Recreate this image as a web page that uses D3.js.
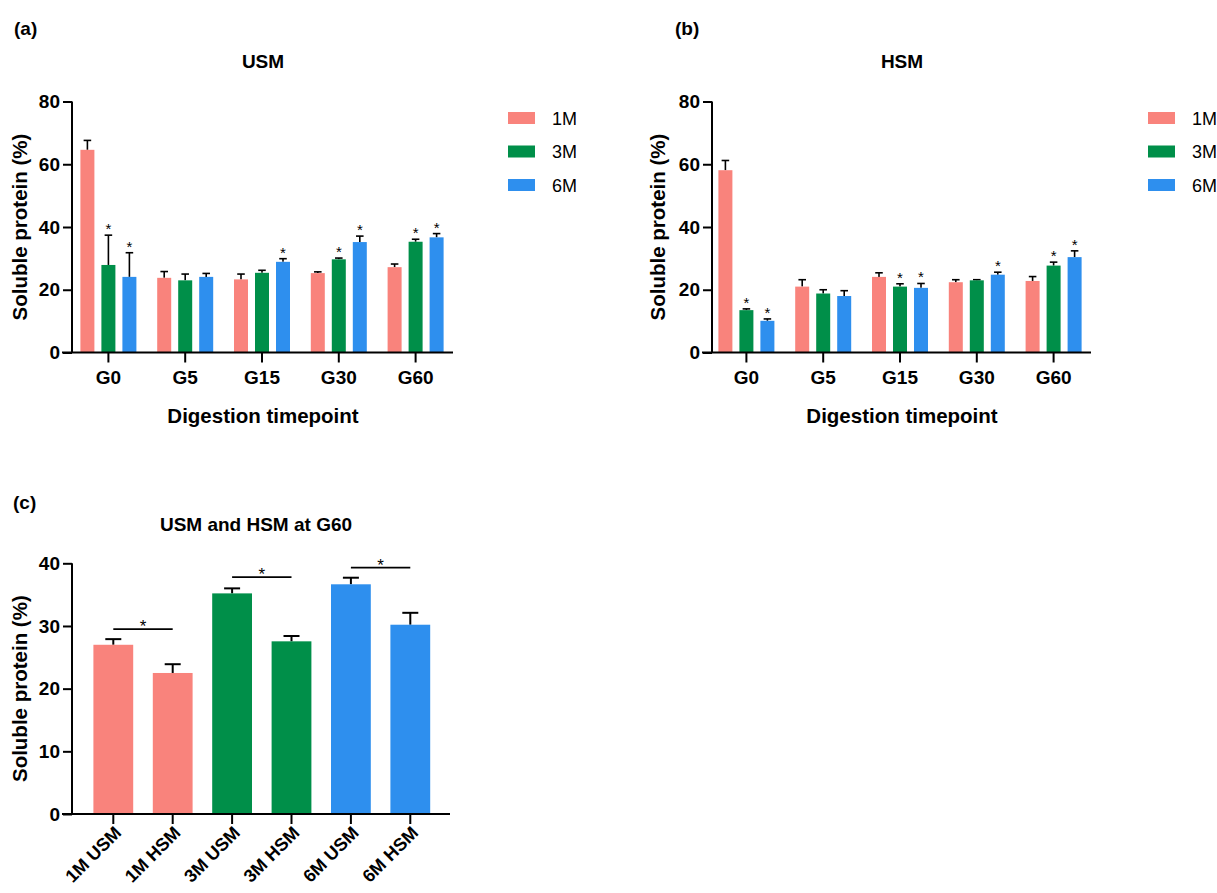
<!DOCTYPE html>
<html>
<head>
<meta charset="utf-8">
<script src="https://cdn.jsdelivr.net/npm/d3@7"></script>
<style>
  html, body { margin: 0; padding: 0; background: #ffffff; }
  svg { display: block; }
  text { font-family: "Liberation Sans", Arial, Helvetica, sans-serif; }
</style>
</head>
<body>
<svg id="chart" width="1217" height="893"></svg>
<script>
// ---------------- DATA ----------------
const categories = ["G0", "G5", "G15", "G30", "G60"];
const seriesNames = ["1M", "3M", "6M"];
const seriesColors = ["#F9837C", "#008F49", "#2E8FEE"];

// Panel (a) USM
const usm1M = [64.6, 23.8, 23.3, 25.3, 27.2];
const usm1MErr = [3.0, 2.0, 1.7, 0.4, 1.0];
const usm3M = [27.9, 23.0, 25.4, 29.7, 35.3];
const usm3MErr = [9.5, 2.0, 0.8, 0.4, 0.8];
const usm6M = [24.1, 24.1, 28.9, 35.2, 36.7];
const usm6MErr = [7.7, 1.1, 1.0, 1.9, 1.2];
const usm1MStar = [0, 0, 0, 0, 0];
const usm3MStar = [1, 0, 0, 1, 1];
const usm6MStar = [1, 0, 1, 1, 1];

// Panel (b) HSM
const hsm1M = [58.1, 21.0, 24.1, 22.4, 22.8];
const hsm1MErr = [3.1, 2.2, 1.3, 0.8, 1.4];
const hsm3M = [13.5, 18.8, 21.0, 23.0, 27.7];
const hsm3MErr = [0.4, 1.2, 0.9, 0.2, 1.1];
const hsm6M = [10.1, 18.0, 20.6, 24.8, 30.4];
const hsm6MErr = [0.6, 1.7, 1.4, 0.8, 2.0];
const hsm1MStar = [0, 0, 0, 0, 0];
const hsm3MStar = [1, 0, 1, 0, 1];
const hsm6MStar = [1, 0, 1, 1, 1];

const yTicksAB = [0, 20, 40, 60, 80];

// Panel (c) G60 comparison
const g60Labels = ["1M USM", "1M HSM", "3M USM", "3M HSM", "6M USM", "6M HSM"];
const g60Values = [27.0, 22.5, 35.2, 27.55, 36.65, 30.2];
const g60Err = [0.9, 1.4, 0.8, 0.85, 1.05, 1.9];
const g60ColorIdx = [0, 0, 1, 1, 2, 2];
const g60SigFrom = [0, 2, 4];
const g60SigTo = [1, 3, 5];
const g60SigLevel = [29.5, 37.8, 39.3];
const yTicksC = [0, 10, 20, 30, 40];

// ---------------- DRAW ----------------
const svg = d3.select("#chart");
const FONT_BOLD = 700;

function styleAxis(g, tickW, fs) {
  g.selectAll("path.domain").remove();
  g.selectAll(".tick line").attr("stroke", "#000").attr("stroke-width", tickW);
  g.selectAll(".tick text")
    .attr("fill", "#000")
    .style("font-family", '"Liberation Sans", Arial, sans-serif')
    .style("font-weight", FONT_BOLD)
    .style("font-size", fs + "px");
}

function groupedPanel(cfg) {
  const g = svg.append("g");
  const y = d3.scaleLinear().domain([0, 80]).range([352.5, 101.5]);
  const x = d3.scaleBand().domain(categories).range([cfg.xr0, cfg.xr1]).padding(0);
  const inner = d3.scaleBand().domain(seriesNames).range([-28, 28]).paddingInner(1 / 3).paddingOuter(0);
  const bw = inner.bandwidth();

  const seriesData = cfg.series.map((s, si) => categories.map((c, ci) => ({
    cat: c, name: seriesNames[si], v: s.vals[ci], e: s.errs[ci], star: s.stars[ci], color: seriesColors[si]
  })));

  seriesData.forEach(sd => {
    const sg = g.append("g");
    sg.selectAll("line.err").data(sd).enter().append("line")
      .attr("x1", d => x(d.cat) + x.bandwidth() / 2 + inner(d.name) + bw / 2)
      .attr("x2", d => x(d.cat) + x.bandwidth() / 2 + inner(d.name) + bw / 2)
      .attr("y1", d => y(d.v))
      .attr("y2", d => y(d.v + d.e))
      .attr("stroke", "#000").attr("stroke-width", 1.6);
    sg.selectAll("line.cap").data(sd).enter().append("line")
      .attr("x1", d => x(d.cat) + x.bandwidth() / 2 + inner(d.name) + bw / 2 - bw * 0.27)
      .attr("x2", d => x(d.cat) + x.bandwidth() / 2 + inner(d.name) + bw / 2 + bw * 0.27)
      .attr("y1", d => y(d.v + d.e))
      .attr("y2", d => y(d.v + d.e))
      .attr("stroke", "#000").attr("stroke-width", 1.6);
    sg.selectAll("rect").data(sd).enter().append("rect")
      .attr("x", d => x(d.cat) + x.bandwidth() / 2 + inner(d.name))
      .attr("y", d => y(d.v))
      .attr("width", bw)
      .attr("height", d => y(0) - y(d.v))
      .attr("fill", d => d.color);
    sg.selectAll("text.star").data(sd.filter(d => d.star)).enter().append("text")
      .attr("x", d => x(d.cat) + x.bandwidth() / 2 + inner(d.name) + bw / 2)
      .attr("y", d => y(d.v + d.e) - 1)
      .attr("text-anchor", "middle")
      .style("font-size", "15px")
      .attr("fill", "#000")
      .text("*");
  });

  const yAxis = d3.axisLeft(y).tickValues(yTicksAB).tickSize(9).tickPadding(3);
  const ya = g.append("g").attr("transform", `translate(${cfg.yAxisX},0)`).call(yAxis);
  styleAxis(ya, 2, 19);
  const xAxis = d3.axisBottom(x).tickSize(10).tickPadding(8);
  const xa = g.append("g").attr("transform", `translate(0,${y(0)})`).call(xAxis);
  styleAxis(xa, 2, 19);
  g.append("line").attr("x1", cfg.yAxisX).attr("x2", cfg.yAxisX)
    .attr("y1", y(80)).attr("y2", y(0)).attr("stroke", "#000").attr("stroke-width", 2);
  g.append("line").attr("x1", cfg.yAxisX - 10).attr("x2", cfg.xr1 - 1)
    .attr("y1", y(0)).attr("y2", y(0)).attr("stroke", "#000").attr("stroke-width", 2);

  const cx = (cfg.yAxisX + cfg.xr1) / 2;
  g.append("text").attr("x", cfg.labelX).attr("y", 35)
    .style("font-weight", FONT_BOLD).style("font-size", "19px").text(cfg.label);
  g.append("text").attr("x", cx).attr("y", 68).attr("text-anchor", "middle")
    .style("font-weight", FONT_BOLD).style("font-size", "19px").text(cfg.title);
  g.append("text").attr("x", cx).attr("y", 423).attr("text-anchor", "middle")
    .style("font-weight", FONT_BOLD).style("font-size", "20.5px").text("Digestion timepoint");
  g.append("text").attr("transform", `translate(${cfg.yTitleX},${(y(0) + y(80)) / 2}) rotate(-90)`)
    .attr("text-anchor", "middle")
    .style("font-weight", FONT_BOLD).style("font-size", "20.5px").text("Soluble protein (%)");

  const lg = g.append("g");
  seriesNames.forEach((n, i) => {
    lg.append("rect").attr("x", cfg.legendX).attr("y", 112 + i * 33.5)
      .attr("width", 27).attr("height", 12).attr("fill", seriesColors[i]);
    lg.append("text").attr("x", cfg.legendX + 44).attr("y", 124.5 + i * 33.5)
      .style("font-size", "18px").attr("fill", "#000").text(n);
  });
}

groupedPanel({
  xr0: 70, xr1: 454, yAxisX: 72, yTitleX: 27, label: "(a)", labelX: 14, title: "USM", legendX: 508,
  series: [
    { vals: usm1M, errs: usm1MErr, stars: usm1MStar },
    { vals: usm3M, errs: usm3MErr, stars: usm3MStar },
    { vals: usm6M, errs: usm6MErr, stars: usm6MStar }
  ]
});

groupedPanel({
  xr0: 708, xr1: 1092, yAxisX: 712, yTitleX: 665, label: "(b)", labelX: 675, title: "HSM", legendX: 1148,
  series: [
    { vals: hsm1M, errs: hsm1MErr, stars: hsm1MStar },
    { vals: hsm3M, errs: hsm3MErr, stars: hsm3MStar },
    { vals: hsm6M, errs: hsm6MErr, stars: hsm6MStar }
  ]
});

// Panel (c)
(function () {
  const g = svg.append("g");
  const y = d3.scaleLinear().domain([0, 40]).range([814, 563.3]);
  const x = d3.scaleBand().domain(g60Labels).range([83.6, 440]).paddingInner(0.33).paddingOuter(0.165);
  const bw = x.bandwidth();
  const data = g60Labels.map((l, i) => ({ l, v: g60Values[i], e: g60Err[i], color: seriesColors[g60ColorIdx[i]] }));
  const cxOf = l => x(l) + bw / 2;

  g.selectAll("line.err").data(data).enter().append("line")
    .attr("x1", d => cxOf(d.l)).attr("x2", d => cxOf(d.l))
    .attr("y1", d => y(d.v)).attr("y2", d => y(d.v + d.e))
    .attr("stroke", "#000").attr("stroke-width", 2);
  g.selectAll("line.cap").data(data).enter().append("line")
    .attr("x1", d => cxOf(d.l) - 8).attr("x2", d => cxOf(d.l) + 8)
    .attr("y1", d => y(d.v + d.e)).attr("y2", d => y(d.v + d.e))
    .attr("stroke", "#000").attr("stroke-width", 2);
  g.selectAll("rect").data(data).enter().append("rect")
    .attr("x", d => x(d.l)).attr("y", d => y(d.v))
    .attr("width", bw).attr("height", d => y(0) - y(d.v))
    .attr("fill", d => d.color);

  g60SigFrom.forEach((a, i) => {
    const b = g60SigTo[i];
    const x1 = cxOf(g60Labels[a]), x2 = cxOf(g60Labels[b]);
    g.append("line").attr("x1", x1).attr("x2", x2)
      .attr("y1", y(g60SigLevel[i])).attr("y2", y(g60SigLevel[i]))
      .attr("stroke", "#000").attr("stroke-width", 1.8);
    g.append("text").attr("x", (x1 + x2) / 2).attr("y", y(g60SigLevel[i]) + 3)
      .attr("text-anchor", "middle").style("font-size", "17px").text("*");
  });

  const yAxis = d3.axisLeft(y).tickValues(yTicksC).tickSize(9).tickPadding(3);
  const ya = g.append("g").attr("transform", "translate(72,0)").call(yAxis);
  styleAxis(ya, 2, 19);
  const xAxis = d3.axisBottom(x).tickSize(10).tickFormat(() => "");
  const xa = g.append("g").attr("transform", `translate(0,${y(0)})`).call(xAxis);
  styleAxis(xa, 2, 19);
  xa.selectAll(".tick").append("text")
    .attr("transform", "translate(9,20) rotate(-45)")
    .attr("text-anchor", "end")
    .attr("fill", "#000")
    .style("font-weight", FONT_BOLD).style("font-size", "18px")
    .text(d => d);
  g.append("line").attr("x1", 72).attr("x2", 72).attr("y1", y(40)).attr("y2", y(0))
    .attr("stroke", "#000").attr("stroke-width", 2);
  g.append("line").attr("x1", 62).attr("x2", 450).attr("y1", y(0)).attr("y2", y(0))
    .attr("stroke", "#000").attr("stroke-width", 2);

  g.append("text").attr("x", 13).attr("y", 509)
    .style("font-weight", FONT_BOLD).style("font-size", "19px").text("(c)");
  g.append("text").attr("x", 256).attr("y", 531).attr("text-anchor", "middle")
    .style("font-weight", FONT_BOLD).style("font-size", "19px").text("USM and HSM at G60");
  g.append("text").attr("transform", `translate(27,${(y(0) + y(40)) / 2}) rotate(-90)`)
    .attr("text-anchor", "middle")
    .style("font-weight", FONT_BOLD).style("font-size", "20.5px").text("Soluble protein (%)");
})();
</script>
</body>
</html>
